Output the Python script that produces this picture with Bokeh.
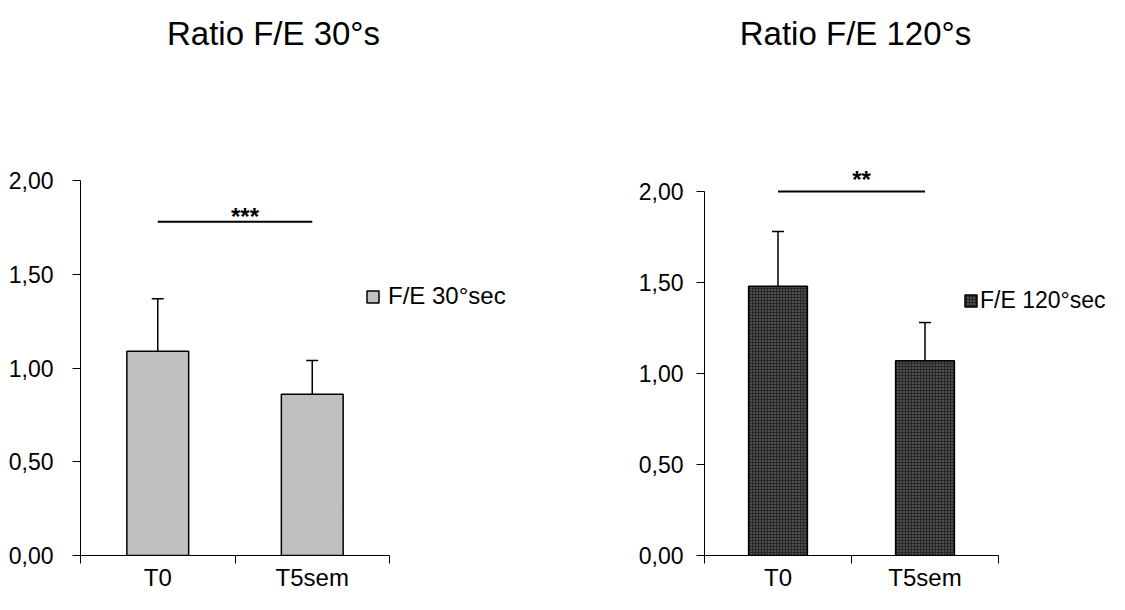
from bokeh.plotting import figure
from bokeh.models import (Range1d, FixedTicker, CustomJSTickFormatter, Whisker, TeeHead,
                          Legend, LegendItem, Label, ColumnDataSource)
from bokeh.layouts import row
from bokeh.embed import file_html
from bokeh.resources import INLINE

# ---------------- data ----------------
categories = ["T0", "T5sem"]
ratio_30 = [1.09, 0.86]
err_30 = [0.28, 0.18]
ratio_120 = [1.48, 1.07]
err_120 = [0.30, 0.21]
y_ticks = [0.0, 0.5, 1.0, 1.5, 2.0]
sig_30 = ("***", 1.78)
sig_120 = ("**", 2.00)
titles = ["Ratio F/E 30°s", "Ratio F/E 120°s"]
legend_labels = ["F/E 30°sec", "F/E 120°sec"]

FONT = "Liberation Sans"
H = 594


def panel(values, errs, sig, title, leg_label, cfg):
    xs = [i + 0.5 for i in range(len(categories))]
    p = figure(width=cfg["w"], height=H, output_backend="svg", toolbar_location=None,
               x_range=Range1d(0, cfg["x_end"]), y_range=Range1d(0, cfg["y_end"]),
               min_border_left=cfg["bl"], min_border_right=0,
               min_border_top=0, min_border_bottom=cfg["bb"], title=None)
    p.outline_line_color = None
    p.xgrid.visible = False
    p.ygrid.visible = False
    p.background_fill_color = "white"
    p.border_fill_color = "white"

    src = ColumnDataSource(dict(x=xs, top=values, upper=[v + e for v, e in zip(values, errs)]))
    r = p.vbar(x="x", top="top", width=0.4, bottom=0, source=src, line_color="black", line_width=1.5,
               **cfg["fill"])
    w = Whisker(base="x", lower="top", upper="upper", source=src, dimension="height",
                line_color="black", line_width=1.5, lower_head=None,
                upper_head=TeeHead(size=12, line_color="black", line_width=1.5))
    p.add_layout(w)

    text, lvl = sig
    p.segment(x0=[xs[0]], x1=[xs[1]], y0=[lvl], y1=[lvl], line_color="black", line_width=2)
    p.add_layout(Label(x=(xs[0] + xs[1]) / 2, y=lvl, x_offset=10, y_offset=cfg["star_dy"], text=text,
                       text_align="center", text_baseline="alphabetic", text_font=FONT,
                       text_font_size="24px", text_font_style="bold", text_color="black"))

    # axes
    ya = p.yaxis[0]
    ya.bounds = (0, 2)
    ya.ticker = FixedTicker(ticks=y_ticks)
    ya.formatter = CustomJSTickFormatter(code="return tick.toFixed(2).replace('.', ',')")
    ya.major_tick_out = 8
    ya.major_tick_in = 0
    ya.minor_tick_out = 0
    ya.minor_tick_in = 0
    ya.major_label_standoff = cfg["ystand"]
    ya.major_label_text_font = FONT
    ya.major_label_text_font_size = "23px"
    ya.major_label_text_color = "black"
    ya.axis_line_color = "black"
    ya.major_tick_line_color = "black"

    xa = p.xaxis[0]
    xa.bounds = (0, 2)
    xa.ticker = FixedTicker(ticks=xs, minor_ticks=[0, 1, 2])
    xa.major_label_overrides = {x: c for x, c in zip(xs, categories)}
    xa.major_tick_out = 0
    xa.major_tick_in = 0
    xa.minor_tick_out = 8
    xa.minor_tick_in = 0
    xa.major_label_standoff = 0
    xa.major_label_text_font = FONT
    xa.major_label_text_font_size = "24px"
    xa.major_label_text_color = "black"
    xa.axis_line_color = "black"
    xa.minor_tick_line_color = "black"

    leg = Legend(items=[LegendItem(label=leg_label, renderers=[r])], location=cfg["leg_loc"],
                 padding=0, margin=0, spacing=0, border_line_color=None, background_fill_alpha=0,
                 glyph_width=15, glyph_height=15, label_height=30, label_standoff=cfg["leg_stand"],
                 label_text_font=FONT, label_text_font_size=cfg["leg_fs"], label_text_color="black")
    p.add_layout(leg, "center")

    p.add_layout(Label(x=cfg["title_x"], y=cfg["title_y"], x_units="screen", y_units="screen",
                       text=title, text_align="center", text_baseline="alphabetic",
                       text_font=FONT, text_font_size="33px", text_color="black"))
    return p


# left panel: frame x 80..560, x-axis at y=555, 154.5 px per category, 187.5 px per unit
left_cfg = dict(w=560, x_end=480 / 154.5, y_end=555 / 187.5, bl=80, bb=H - 555,
                fill=dict(fill_color="#c0c0c0"), star_dy=5, ystand=19,
                leg_loc=(285, 244), leg_stand=8, leg_fs="24px", title_x=193, title_y=522)
# right panel: frame x 704..1109, x-axis at y=555, 147 px per category, 182 px per unit
right_cfg = dict(w=549, x_end=405 / 147.0, y_end=555 / 182.0, bl=144, bb=H - 555,
                 fill=dict(fill_color="#282828", hatch_pattern="dot", hatch_color="#8a8a8a",
                           hatch_scale=3, hatch_weight=1),
                 star_dy=12, ystand=13,
                 leg_loc=(259, 240), leg_stand=2, leg_fs="23px", title_x=151, title_y=522)

p1 = panel(ratio_30, err_30, sig_30, titles[0], legend_labels[0], left_cfg)
p2 = panel(ratio_120, err_120, sig_120, titles[1], legend_labels[1], right_cfg)

layout = row(p1, p2, spacing=0)
open("out.html", "w").write(file_html(layout, INLINE))
